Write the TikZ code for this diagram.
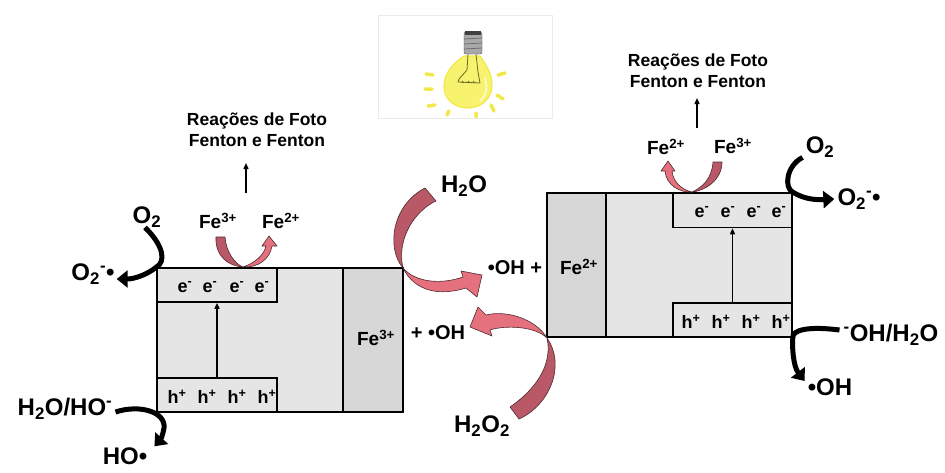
\documentclass[tikz,border=0pt]{standalone}
\usepackage{fontspec}
\setmainfont{Liberation Sans}
\usetikzlibrary{arrows.meta}

\definecolor{bandgray}{HTML}{E5E5E5}
\definecolor{colgray}{HTML}{D7D7D7}
\definecolor{ribdark}{HTML}{B95866}
\definecolor{riblight}{HTML}{E6717E}
\definecolor{ribedge}{HTML}{4E2A2F}
\definecolor{glass}{HTML}{F8F36E}
\definecolor{glow}{HTML}{F1E84A}
\definecolor{wire}{HTML}{6B6A2A}
\definecolor{socket}{HTML}{A8A8A8}

\begin{document}
\begin{tikzpicture}[x=1pt, y=-1pt,
    crystal/.style ={draw, line width=1.6pt, fill=bandgray, minimum height=144pt, inner sep=0pt},
    ironcol/.style ={draw, line width=1.6pt, fill=colgray, minimum height=144pt, inner sep=0pt},
    band/.style ={draw, line width=1.6pt, fill=bandgray, minimum width=120pt, minimum height=34pt, inner sep=0pt},
    carrier/.style ={inner sep=0pt, font=\fontsize{18}{20}\selectfont\bfseries},
    ion/.style ={inner sep=0pt, font=\fontsize{19}{22}\selectfont\bfseries},
    radical/.style ={inner sep=0pt, font=\fontsize{20}{24}\selectfont\bfseries},
    species/.style ={inner sep=0pt, font=\fontsize{24}{28}\selectfont\bfseries},
    note/.style ={inner sep=0pt, align=center, font=\fontsize{17.5}{21}\selectfont\bfseries},
    swing/.style ={line width=5pt, -{Triangle[length=11pt, width=17pt]}},
    lift/.style ={line width=1.4pt, -{Triangle[length=6pt, width=5pt]}},
    ribbon/.style ={draw=ribedge, line width=0.6pt, line join=round}]
   \useasboundingbox (0,0) rectangle (945,472);

   % lamp
   \draw[black!8, fill=white] (378,15) rectangle (552,118);
   \filldraw[draw=glow, line width=1.2pt, fill=glass] (464,56) .. controls (455,62) and (444,72) .. (444,86)
      .. controls (444,100) and (455,108) .. (468,108) .. controls (482,108) and (492,98) .. (492,85)
      .. controls (492,72) and (484,62) .. (480,56) -- cycle;
   \draw[white!70!glass, line width=1.5pt, line cap=round] (485,78) .. controls (488,88) and (486,96) .. (480,101);
   \draw[wire, line width=0.8pt] (468,54) -- (467,70) -- (459,79) -- (458,82) -- (480,83) -- (478,72) -- (476,54);
   \draw[wire, line width=0.8pt] (462,81) -- (464,83) (468,81) -- (470,83) (473,81) -- (475,83);
   \filldraw[draw=black!70, fill=socket, rounded corners=2pt] (464,32) rectangle (482,54);
   \fill[black!75] (465,31) rectangle (481,35);
   \draw[black!60, line width=0.7pt] (464,39) -- (482,38) (464,44) -- (482,43) (464,49) -- (482,48);
   \draw[glow, line width=3.5pt, line cap=round] (426,74) -- (433,75) (425,89) -- (432,89) (428,106) -- (435,105)
      (449,111) -- (447,115) (476,113) -- (476,117) (498,75) -- (505,73) (497,95) -- (503,99) (491,105) -- (494,111);

   % left particle
   \node[crystal, minimum width=246pt] (boxL) at (280,340) {};
   \node[ironcol, minimum width=60pt] (colL) at (373,340) {};
   \node[band] (cbL) at (217,285) {};
   \node[band] (vbL) at (217,395) {};
   \draw[lift] (vbL.north) -- (cbL.south);
   \node[carrier] (eL1) at (185,287) {e\textsuperscript{-}};
   \node[carrier] (eL2) at (210,287) {e\textsuperscript{-}};
   \node[carrier] (eL3) at (237,287) {e\textsuperscript{-}};
   \node[carrier] (eL4) at (262,287) {e\textsuperscript{-}};
   \node[carrier] (hL1) at (177,397) {h\textsuperscript{+}};
   \node[carrier] (hL2) at (207,397) {h\textsuperscript{+}};
   \node[carrier] (hL3) at (237,397) {h\textsuperscript{+}};
   \node[carrier] (hL4) at (267,397) {h\textsuperscript{+}};
   \node[ion] (feCol3) at (376,338) {Fe\textsuperscript{3+}};

   % right particle
   \node[crystal, minimum width=245pt] (boxR) at (669.5,265) {};
   \node[ironcol, minimum width=59pt] (colR) at (576.5,265) {};
   \node[band, minimum width=119pt] (cbR) at (732.5,210.5) {};
   \node[band, minimum width=119pt] (vbR) at (732.5,320) {};
   \draw[lift] (vbR.north) -- (cbR.south);
   \node[carrier] (eR1) at (702,212) {e\textsuperscript{-}};
   \node[carrier] (eR2) at (728,212) {e\textsuperscript{-}};
   \node[carrier] (eR3) at (754,212) {e\textsuperscript{-}};
   \node[carrier] (eR4) at (779,212) {e\textsuperscript{-}};
   \node[carrier] (hR1) at (691,322) {h\textsuperscript{+}};
   \node[carrier] (hR2) at (721,322) {h\textsuperscript{+}};
   \node[carrier] (hR3) at (751,322) {h\textsuperscript{+}};
   \node[carrier] (hR4) at (781,322) {h\textsuperscript{+}};
   \node[ion] (feCol2) at (579,267) {Fe\textsuperscript{2+}};

   % iron couples on the surface
   \node[ion] (feL3) at (218,221) {Fe\textsuperscript{3+}};
   \node[ion] (feL2) at (281,221) {Fe\textsuperscript{2+}};
   \node[ion] (feR2) at (666,147) {Fe\textsuperscript{2+}};
   \node[ion] (feR3) at (733,146) {Fe\textsuperscript{3+}};
   \node[note] (fotoL) at (257,130) {Reações de Foto\\Fenton e Fenton};
   \node[note] (fotoR) at (698,71) {Reações de Foto\\Fenton e Fenton};
   \coordinate (upL) at (246,193);
   \coordinate (upR) at (697,128);
   \draw[lift] (upL) -- ++(0,-30);
   \draw[lift] (upR) -- ++(0,-30);

   % species around the particles
   \node[species] (o2L) at (147,217) {O\textsubscript{2}};
   \node[species] (radL) at (93,274) {O\textsubscript{2}\textsuperscript{-}•};
   \node[species] (hoL) at (65,409) {H\textsubscript{2}O/HO\textsuperscript{-}};
   \node[species] (hoRad) at (125,456) {HO•};
   \node[species] (o2R) at (820,147) {O\textsubscript{2}};
   \node[species] (radR) at (859,199) {O\textsubscript{2}\textsuperscript{-}•};
   \node[species] (ohR) at (891,335) {\textsuperscript{-}OH/H\textsubscript{2}O};
   \node[species] (ohRad) at (830,387) {•OH};
   \node[species] (water) at (464,186) {H\textsubscript{2}O};
   \node[species] (perox) at (482,426) {H\textsubscript{2}O\textsubscript{2}};
   \node[radical] (ohPlus) at (515,268) {•OH +};
   \node[radical] (plusOh) at (438,333) {+ •OH};

   % black turns at the corners
   \draw[swing] ([xshift=-2pt]o2L.south) .. controls (164,246) and (166,262) .. (boxL.north west)
      .. controls (148,274) and (135,279) .. ([xshift=2pt,yshift=-5pt]radL.east);
   \draw[swing] ([xshift=3pt,yshift=-3pt]hoL.east) .. controls (140,404) and (166,412) .. (164,428)
      .. controls (163,434) and (161,439) .. ([xshift=7pt,yshift=1pt]hoRad.north east);
   \draw[swing] ([xshift=-3pt]o2R.south west) .. controls (786,166) and (784,188) .. (boxR.north east)
      .. controls (804,199) and (815,200) .. ([xshift=-3pt]radR.west);
   \draw[swing] ([xshift=-4pt,yshift=5pt]ohR.west) .. controls (808,326) and (792,330) .. (boxR.south east)
      .. controls (792,345) and (793,366) .. ([xshift=-3pt,yshift=6pt]ohRad.west);

   % pink ribbons
   \filldraw[ribbon, fill=ribdark] (425,188) -- (436,201) .. controls (416,210) and (396,238) .. (403,268)
      .. controls (386,248) and (392,205) .. (425,188) -- cycle;
   \filldraw[ribbon, fill=riblight] (403,268) .. controls (415,292) and (440,296) .. (466,288) -- (477,297)
      -- (482,275) -- (461,271) -- (463,277) .. controls (440,285) and (415,282) .. (403,268) -- cycle;
   \filldraw[ribbon, fill=ribdark] (510,407) -- (519,419) .. controls (550,405) and (566,365) .. (547,338)
      .. controls (553,365) and (535,390) .. (510,407) -- cycle;
   \filldraw[ribbon, fill=riblight] (547,338) .. controls (535,318) and (505,310) .. (486,315) -- (478,307)
      -- (470,327) -- (492,336) -- (490,330) .. controls (505,325) and (535,326) .. (547,338) -- cycle;
   \filldraw[ribbon, fill=ribdark] (216,237) -- (225,237) .. controls (226,252) and (235,264) .. (243,267)
      .. controls (228,266) and (215,256) .. (216,237) -- cycle;
   \filldraw[ribbon, fill=riblight] (243,267) .. controls (255,263) and (264,255) .. (266,246) -- (262,246)
      -- (269,236) -- (277,246) -- (272,246) .. controls (270,259) and (258,268) .. (243,267) -- cycle;
   \filldraw[ribbon, fill=ribdark] (713,162) -- (722,162) .. controls (722,180) and (705,191) .. (692,192)
      .. controls (703,187) and (712,178) .. (713,162) -- cycle;
   \filldraw[ribbon, fill=riblight] (692,192) .. controls (682,190) and (673,182) .. (672,171) -- (675,171)
      -- (668,161) -- (661,171) -- (665,171) .. controls (666,185) and (680,193) .. (692,192) -- cycle;
\end{tikzpicture}
\end{document}
